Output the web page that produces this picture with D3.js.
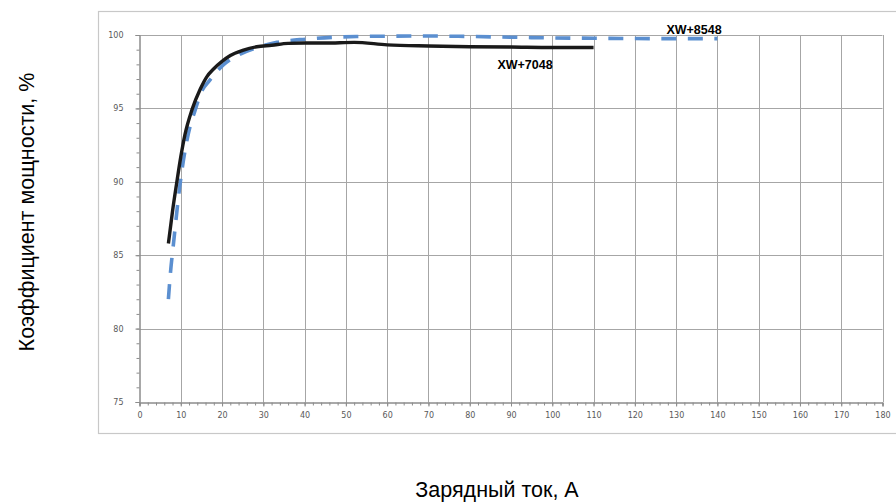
<!DOCTYPE html>
<html>
<head>
<meta charset="utf-8">
<script src="https://cdn.jsdelivr.net/npm/d3@7"></script>
<style>
  html, body { margin: 0; padding: 0; background: #fff; }
  svg { display: block; font-family: "Liberation Sans", Arial, sans-serif; }
</style>
</head>
<body>
<svg id="chart" width="896" height="502"></svg>
<script>
// Charging current, A
const xw7048Current = [7, 8, 9, 10, 11, 12.7, 14.7, 16.3, 18, 20, 22, 25, 28.4, 32, 36, 40, 45, 52, 60, 70, 80, 90, 100, 110];
// Power factor, %
const xw7048Pf = [85.8, 88.0, 89.9, 91.7, 93.2, 94.9, 96.3, 97.15, 97.7, 98.2, 98.6, 98.95, 99.2, 99.3, 99.43, 99.45, 99.45, 99.5, 99.33, 99.25, 99.2, 99.18, 99.15, 99.15];

const xw8548Current = [7, 7.5, 8.2, 9.85, 11.85, 13.5, 15.1, 16.7, 20.3, 24.4, 28.4, 33.3, 40.5, 52.6, 60, 70, 80, 90, 100, 110, 120, 130, 140];
const xw8548Pf = [82.0, 83.8, 85.7, 89.9, 93.3, 94.9, 96.2, 96.8, 97.96, 98.7, 99.14, 99.5, 99.72, 99.9, 99.92, 99.93, 99.9, 99.85, 99.8, 99.78, 99.76, 99.75, 99.75];

const xTicks = [0, 10, 20, 30, 40, 50, 60, 70, 80, 90, 100, 110, 120, 130, 140, 150, 160, 170, 180];
const yTicks = [75, 80, 85, 90, 95, 100];
const seriesNames = ["XW+7048", "XW+8548"];
const xTitle = "Зарядный ток, А";
const yTitle = "Коэффициент мощности, %";

const svg = d3.select("#chart");
const plot = { left: 139.5, right: 882.5, top: 35, bottom: 402 };

const x = d3.scaleLinear().domain([0, 180]).range([plot.left, plot.right]);
const y = d3.scaleLinear().domain([75, 100]).range([plot.bottom, plot.top]);

// outer chart frame
svg.append("rect")
  .attr("x", 98.5).attr("y", 11.5)
  .attr("width", 820).attr("height", 422)
  .attr("fill", "none").attr("stroke", "#c8c8c8").attr("stroke-width", 1.2);

const grid = svg.append("g").attr("stroke", "#a6a6a6").attr("stroke-width", 1);
grid.selectAll("line.v").data(xTicks.slice(1)).join("line")
  .attr("x1", d => Math.round(x(d)) + 0.5).attr("x2", d => Math.round(x(d)) + 0.5)
  .attr("y1", plot.top).attr("y2", plot.bottom);
grid.selectAll("line.h").data(yTicks.slice(1)).join("line")
  .attr("x1", plot.left).attr("x2", plot.right)
  .attr("y1", d => Math.round(y(d)) + 0.5).attr("y2", d => Math.round(y(d)) + 0.5);

// axes
const xAxis = svg.append("g").attr("transform", `translate(0,${plot.bottom + 0.5})`)
  .call(d3.axisBottom(x).tickValues(xTicks).tickSize(4).tickPadding(6).tickFormat(d3.format("d")));
const xMinor = svg.append("g").attr("transform", `translate(0,${plot.bottom + 0.5})`)
  .call(d3.axisBottom(x).tickValues(d3.range(0, 181, 2)).tickSize(3).tickFormat(""));
const yAxis = svg.append("g").attr("transform", `translate(${plot.left},0)`)
  .call(d3.axisLeft(y).tickValues(yTicks).tickSize(4).tickPadding(12).tickFormat(d3.format("d")));
const yMinor = svg.append("g").attr("transform", `translate(${plot.left},0)`)
  .call(d3.axisLeft(y).tickValues(d3.range(75, 101, 1)).tickSize(3).tickFormat(""));

[xAxis, xMinor, yAxis, yMinor].forEach(g => {
  g.selectAll(".domain").attr("stroke", "#8c8c8c");
  g.selectAll(".tick line").attr("stroke", "#8c8c8c");
  g.selectAll(".tick text").attr("fill", "#595959").attr("font-size", 8)
    .attr("font-family", "\"DejaVu Sans\", sans-serif");
});

// series lines
const line = d3.line().x(d => x(d[0])).y(d => y(d[1])).curve(d3.curveMonotoneX);

svg.append("path")
  .datum(d3.zip(xw8548Current, xw8548Pf))
  .attr("d", line)
  .attr("fill", "none").attr("stroke", "#5b8fd0").attr("stroke-width", 3.6)
  .attr("stroke-dasharray", "15,11.5");

svg.append("path")
  .datum(d3.zip(xw7048Current, xw7048Pf))
  .attr("d", line)
  .attr("fill", "none").attr("stroke", "#1a1a1a").attr("stroke-width", 3.4)
  .attr("stroke-linejoin", "round");

// series labels
svg.append("text").text(seriesNames[0])
  .attr("x", 525).attr("y", 69).attr("text-anchor", "middle")
  .attr("font-size", 12.5).attr("font-weight", "bold").attr("fill", "#000");
svg.append("text").text(seriesNames[1])
  .attr("x", 694).attr("y", 34).attr("text-anchor", "middle")
  .attr("font-size", 12.5).attr("font-weight", "bold").attr("fill", "#000");

// axis titles
svg.append("text").text(xTitle)
  .attr("x", 497).attr("y", 497).attr("text-anchor", "middle")
  .attr("font-size", 21.5).attr("fill", "#000");
svg.append("text").text(yTitle)
  .attr("transform", "translate(34,212) rotate(-90)").attr("text-anchor", "middle")
  .attr("font-size", 21.5).attr("fill", "#000");
</script>
</body>
</html>
